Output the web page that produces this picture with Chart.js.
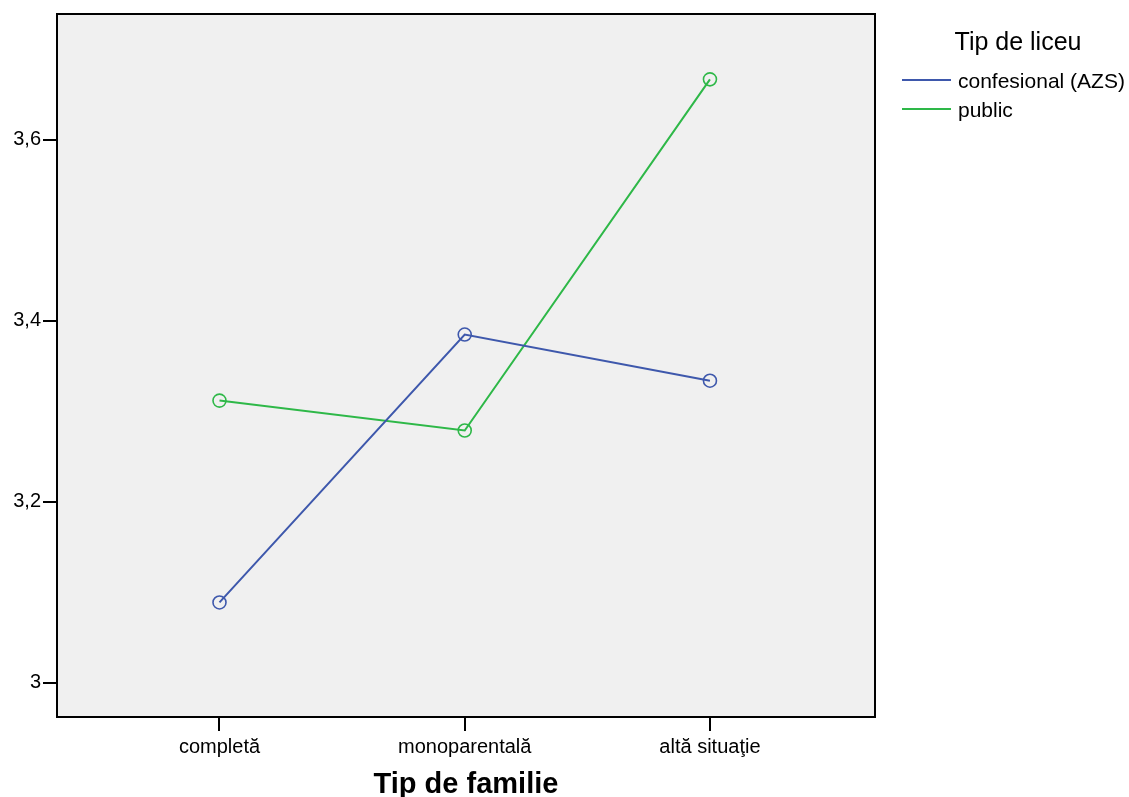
<!DOCTYPE html>
<html>
<head>
<meta charset="utf-8">
<script src="https://cdn.jsdelivr.net/npm/chart.js@4"></script>
<style>
  html, body { margin: 0; padding: 0; background: #ffffff; }
  #wrap { width: 1129px; height: 797px; position: relative; }
</style>
</head>
<body>
<div id="wrap"><canvas id="c" width="1129" height="797"></canvas></div>
<script>
/* ---- data ---- */
const familyTypes   = ['completă', 'monoparentală', 'altă situaţie'];
const seriesNames   = ['confesional (AZS)', 'public'];
const confesional   = [3.089, 3.385, 3.334];
const publicSchool  = [3.312, 3.279, 3.667];
const yTickValues   = [3, 3.2, 3.4, 3.6];
const seriesColors  = ['#3e58ac', '#2eb848'];

const FONT = 'Arial, "Liberation Sans", sans-serif';

/* grey plot background + black frame */
const frame = {
  id: 'frame',
  beforeDraw(chart) {
    const a = chart.chartArea, ctx = chart.ctx;
    ctx.save();
    ctx.fillStyle = '#f0f0f0';
    ctx.fillRect(a.left, a.top, a.right - a.left, a.bottom - a.top);
    ctx.restore();
  },
  afterDraw(chart) {
    const a = chart.chartArea, ctx = chart.ctx;
    ctx.save();
    ctx.strokeStyle = '#000';
    ctx.lineWidth = 2;
    ctx.strokeRect(a.left, a.top, a.right - a.left, a.bottom - a.top);
    ctx.restore();
  }
};

/* legend on the right, SPSS style */
const sideLegend = {
  id: 'sideLegend',
  afterDraw(chart) {
    const ctx = chart.ctx;
    ctx.save();
    ctx.fillStyle = '#000';
    ctx.font = '25px ' + FONT;
    ctx.textAlign = 'center';
    ctx.textBaseline = 'alphabetic';
    ctx.fillText('Tip de liceu', 1018, 50);
    ctx.font = '21px ' + FONT;
    ctx.textAlign = 'left';
    chart.data.datasets.forEach((ds, i) => {
      const y = 80 + i * 29;
      ctx.strokeStyle = ds.borderColor;
      ctx.lineWidth = 2;
      ctx.beginPath();
      ctx.moveTo(902, y);
      ctx.lineTo(951, y);
      ctx.stroke();
      ctx.fillStyle = '#000';
      ctx.fillText(ds.label, 958, y + 8);
    });
    ctx.restore();
  }
};

const makeSeries = (vals) => vals.map((v, i) => ({ x: i, y: v }));

new Chart(document.getElementById('c'), {
  type: 'line',
  data: {
    datasets: [
      {
        label: seriesNames[0],
        data: makeSeries(confesional),
        borderColor: seriesColors[0],
        backgroundColor: 'transparent',
        borderWidth: 2,
        pointRadius: 6.5,
        pointBorderWidth: 1.6,
        pointBackgroundColor: 'transparent',
        pointBorderColor: seriesColors[0],
        tension: 0
      },
      {
        label: seriesNames[1],
        data: makeSeries(publicSchool),
        borderColor: seriesColors[1],
        backgroundColor: 'transparent',
        borderWidth: 2,
        pointRadius: 6.5,
        pointBorderWidth: 1.6,
        pointBackgroundColor: 'transparent',
        pointBorderColor: seriesColors[1],
        tension: 0
      }
    ]
  },
  options: {
    responsive: false,
    animation: false,
    layout: { padding: { top: 14, right: 254, left: 0, bottom: 0 } },
    plugins: {
      legend: { display: false },
      tooltip: { enabled: false }
    },
    scales: {
      x: {
        type: 'linear',
        min: -0.6626,
        max: 2.673,
        afterBuildTicks: s => { s.ticks = familyTypes.map((_, i) => ({ value: i })); },
        afterFit: s => { s.height = 80; },
        grid: { drawOnChartArea: false, color: '#000', lineWidth: 2, tickLength: 14 },
        border: { display: false },
        ticks: {
          color: '#000',
          font: { family: FONT, size: 20 },
          padding: 4,
          maxRotation: 0,
          callback: v => familyTypes[v]
        },
        title: {
          display: true,
          text: 'Tip de familie',
          color: '#000',
          font: { family: FONT, size: 29, weight: 'bold', lineHeight: 0.85 },
          padding: { top: 0, bottom: 0 }
        }
      },
      y: {
        min: 2.9624,
        max: 3.7392,
        afterBuildTicks: s => { s.ticks = yTickValues.map(v => ({ value: v })); },
        afterFit: s => { s.width = 57; },
        grid: { drawOnChartArea: false, color: '#000', lineWidth: 2, tickLength: 14 },
        border: { display: false },
        ticks: {
          color: '#000',
          font: { family: FONT, size: 20 },
          padding: 2,
          callback: v => String(Math.round(v * 10) / 10).replace('.', ',')
        }
      }
    }
  },
  plugins: [frame, sideLegend]
});
</script>
</body>
</html>
